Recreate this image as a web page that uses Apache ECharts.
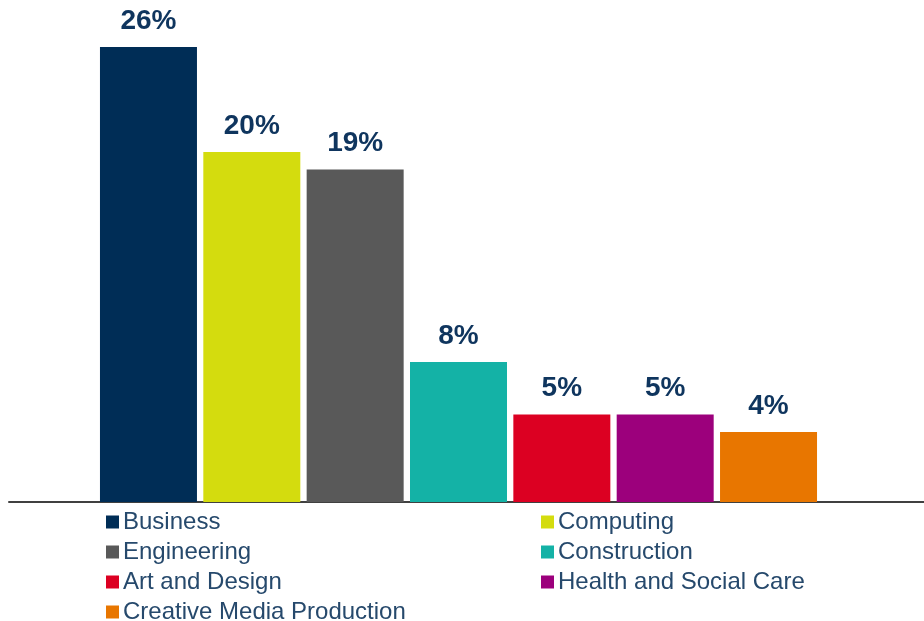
<!DOCTYPE html>
<html>
<head>
<meta charset="utf-8">
<script src="https://cdn.jsdelivr.net/npm/echarts@6/dist/echarts.min.js"></script>
<style>html,body{margin:0;padding:0;background:#fff}#c{width:924px;height:621px}</style>
</head>
<body>
<div id="c"></div>
<script>
const categories = ['Business','Computing','Engineering','Construction','Art and Design','Health and Social Care','Creative Media Production'];
const values = [26, 20, 19, 8, 5, 5, 4];
const colors = ['#002D56','#D4DC0E','#595959','#14B2A6','#DC0022','#9C007C','#E87600'];
const leftLegend = ['Business','Engineering','Art and Design','Creative Media Production'];
const rightLegend = ['Computing','Construction','Health and Social Care'];

const chart = echarts.init(document.getElementById('c'));
const series = categories.map((name, i) => ({
  name: name,
  type: 'bar',
  stack: 'all',
  barWidth: 97,
  xAxisIndex: 0, yAxisIndex: 0,
  itemStyle: { color: colors[i] },
  label: {
    show: true, position: 'top', distance: 12,
    formatter: '{c}%',
    fontFamily: 'Liberation Sans, Arial, sans-serif',
    fontWeight: 'bold', fontSize: 28, color: '#0F355E'
  },
  data: categories.map((c, j) => j === i ? values[i] : null)
}));

const legendText = { fontFamily: 'Liberation Sans, Arial, sans-serif', fontSize: 24, color: '#26496C', lineHeight: 24, padding: [0, 0, 0, -1] };
const legendBase = { orient: 'vertical', top: 510, height: 120, padding: 0, itemWidth: 13, itemHeight: 13, itemGap: 6, icon: 'rect', textStyle: legendText, selectedMode: false };
chart.setOption({
  animation: false,
  grid: [
    { left: 96.8, right: 103.8, top: 47, bottom: 119 },
    { left: 9, right: 0, top: 47, bottom: 119 }
  ],
  xAxis: [
    { type: 'category', gridIndex: 0, data: categories, axisLine: { show: false }, axisTick: { show: false }, axisLabel: { show: false } },
    { type: 'value', gridIndex: 1, min: 0, max: 1, axisLine: { show: true, lineStyle: { color: '#404040', width: 2 } }, axisTick: { show: false }, axisLabel: { show: false }, splitLine: { show: false } }
  ],
  yAxis: [
    { type: 'value', gridIndex: 0, min: 0, max: 26, show: false },
    { type: 'value', gridIndex: 1, min: 0, max: 1, show: false }
  ],
  legend: [
    Object.assign({}, legendBase, { left: 106, data: leftLegend }),
    Object.assign({}, legendBase, { left: 541, data: rightLegend })
  ],
  series: series
});
</script>
</body>
</html>
